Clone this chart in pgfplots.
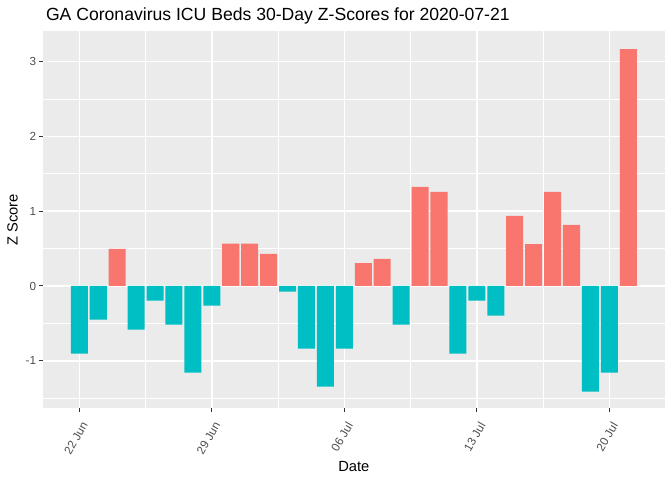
\documentclass[border=0pt]{standalone}
\usepackage{fontspec}
\setmainfont{Liberation Sans}
\usepackage{pgfplots}
\usepackage{pgfplotstable}
\pgfplotsset{compat=1.18}
\definecolor{panelbg}{HTML}{EBEBEB}
\definecolor{posred}{HTML}{F8766D}
\definecolor{negteal}{HTML}{00BFC4}
\definecolor{ticktext}{HTML}{4D4D4D}
\definecolor{tickline}{HTML}{333333}

% day index (0 = 22 Jun) and z score
\pgfplotstableread{
x y
2 0.495
8 0.566
9 0.566
10 0.428
15 0.307
16 0.361
18 1.324
19 1.257
23 0.936
24 0.561
25 1.257
26 0.816
29 3.168
}\pos
\pgfplotstableread{
x y
0 -0.905
1 -0.450
3 -0.584
4 -0.196
5 -0.517
6 -1.159
7 -0.263
11 -0.076
12 -0.838
13 -1.346
14 -0.838
17 -0.517
20 -0.905
21 -0.196
22 -0.397
27 -1.413
28 -1.159
}\negs

\begin{document}
\begin{tikzpicture}
\path[use as bounding box] (0,0) rectangle (672pt,480pt);
\begin{axis}[
  at={(42.5pt,71.7pt)}, anchor=south west,
  scale only axis, width=622.6pt, height=377.3pt,
  xmin=-1.945, xmax=30.945, ymin=-1.635, ymax=3.409,
  axis background/.style={fill=panelbg},
  axis line style={draw=none},
  xtick={0,7,14,21,28},
  xticklabels={22 Jun,29 Jun,06 Jul,13 Jul,20 Jul},
  minor xtick={3.5,10.5,17.5,24.5},
  ytick={-1,0,1,2,3},
  yticklabels={-1,0,1,2,3},
  minor ytick={-1.5,-0.5,0.5,1.5,2.5},
  grid=both,
  major grid style={white, line width=1.4pt},
  minor grid style={white, line width=0.7pt},
  tick align=outside, xtick pos=left, ytick pos=left,
  major tick length=3.7pt, minor tick length=0pt,
  tick style={tickline, line width=1pt},
  ticklabel style={font=\fontsize{11.7}{14}\selectfont, text=ticktext},
  xticklabel style={xshift=6pt, yshift=-10pt, rotate=60, anchor=east, inner sep=1pt},
  yticklabel style={anchor=east, inner sep=1pt, xshift=-1.5pt},
  every axis plot/.append style={ybar, bar width=0.9, bar shift=0pt, draw=none},
]
\addplot[fill=posred] table[x=x,y=y]{\pos};
\addplot[fill=negteal] table[x=x,y=y]{\negs};
\end{axis}
\node[anchor=base west, font=\fontsize{17.6}{21}\selectfont] at (42.5pt,459.5pt) {GA Coronavirus ICU Beds 30-Day Z-Scores for 2020-07-21};
\node[anchor=base, font=\fontsize{14.7}{17}\selectfont] at (353.8pt,8.5pt) {Date};
\node[rotate=90, anchor=center, font=\fontsize{14.7}{17}\selectfont] at (12.5pt,260pt) {Z Score};
\end{tikzpicture}
\end{document}
